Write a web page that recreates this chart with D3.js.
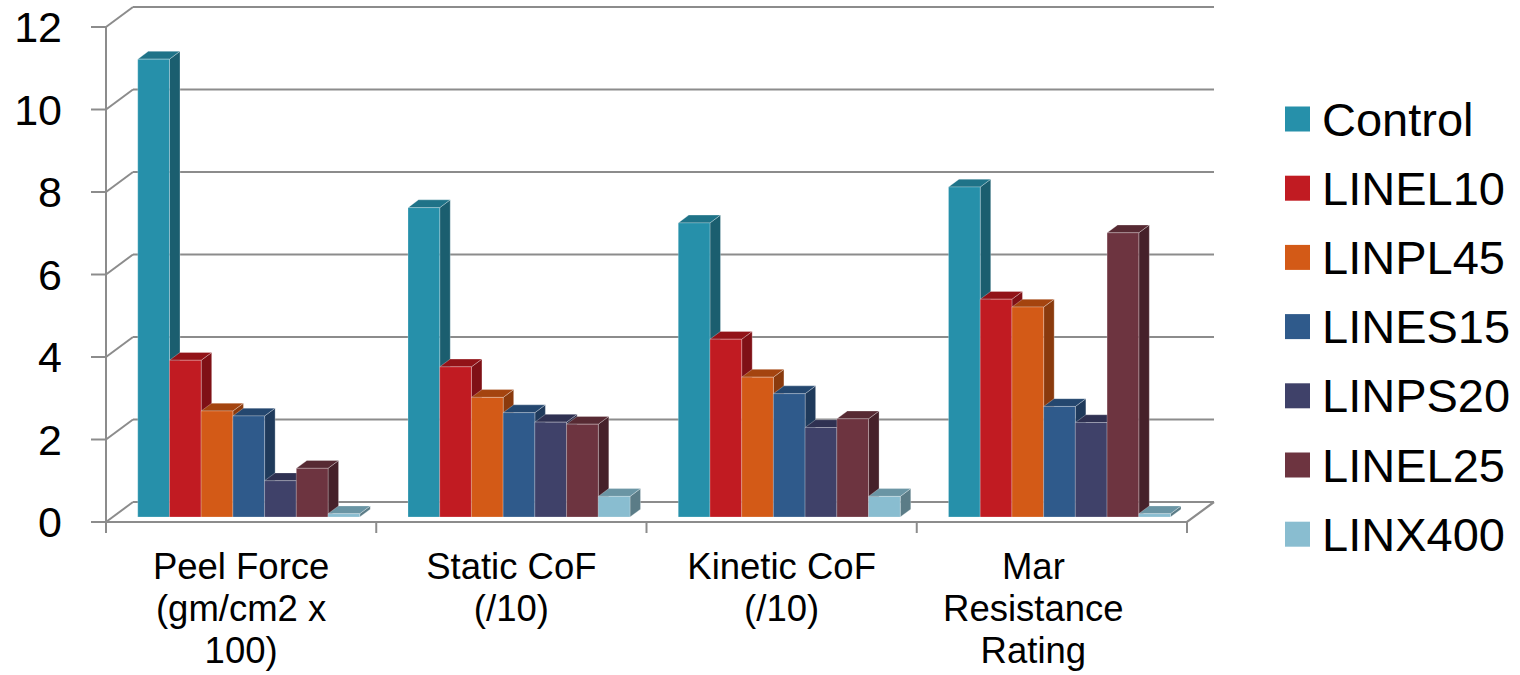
<!DOCTYPE html>
<html>
<head>
<meta charset="utf-8">
<script src="https://cdn.jsdelivr.net/npm/d3@7"></script>
<style>
  html, body { margin: 0; padding: 0; background: #fff; }
  svg { display: block; font-family: "Liberation Sans", Arial, sans-serif; }
</style>
</head>
<body>
<svg id="chart" width="1520" height="675"></svg>
<script>
// Categories (each label split into its display lines)
const categories = ["Peel Force", "Static CoF", "Kinetic CoF", "Mar Resistance"];
const categoryLines = [
  ["Peel Force", "(gm/cm2 x", "100)"],
  ["Static CoF", "(/10)"],
  ["Kinetic CoF", "(/10)"],
  ["Mar", "Resistance", "Rating"]
];

const seriesNames = ["Control", "LINEL10", "LINPL45", "LINES15", "LINPS20", "LINEL25", "LINX400"];

// Values per series, in category order
const control = [11.1, 7.5, 7.13, 8.0];
const linel10 = [3.8, 3.64, 4.31, 5.28];
const linpl45 = [2.57, 2.9, 3.39, 5.09];
const lines15 = [2.45, 2.53, 2.99, 2.68];
const linps20 = [0.88, 2.3, 2.17, 2.29];
const linel25 = [1.18, 2.25, 2.38, 6.89];
const linx400 = [0.08, 0.5, 0.5, 0.08];

const yTicks = [0, 2, 4, 6, 8, 10, 12];

// Face colours: front, side, top
const frontColors = ["#2690aa", "#c11b22", "#d35a17", "#2f5a8b", "#3f4169", "#6d3440", "#89bdd0"];
const sideColors  = ["#1b5e6f", "#7f1016", "#8a3a0d", "#1f3a5b", "#2a2c48", "#46212a", "#5b7c87"];
const topColors   = ["#1f7388", "#921318", "#a4440f", "#24476f", "#2f3152", "#572a33", "#6a95a4"];

const values = [control, linel10, linpl45, lines15, linps20, linel25, linx400];

const svg = d3.select("#chart");

// Front-plane geometry and depth offset of the 3D box
const left = 106, right = 1187;
const DX = 27, DY = 20;
const proj = (x, y, z) => [x + z * DX, y - z * DY];

const y = d3.scaleLinear().domain([0, 12]).range([522, 27]);
const x0 = d3.scaleBand().domain(categories).range([left, right]).padding(0);
const x1 = d3.scaleBand().domain(seriesNames).range([25, 25 + 222]).padding(0);

const gridColor = "#8c8c8c";
const line = d3.line();

// Back wall gridlines and side wall diagonals
const walls = svg.append("g");
yTicks.forEach(t => {
  walls.append("path")
    .attr("d", line([proj(left, y(t), 1), proj(right, y(t), 1)]))
    .attr("stroke", gridColor).attr("stroke-width", 2.2).attr("fill", "none");
  walls.append("path")
    .attr("d", line([[left, y(t)], proj(left, y(t), 1)]))
    .attr("stroke", gridColor).attr("stroke-width", 2).attr("fill", "none");
});

// Floor front and right edges
walls.append("path")
  .attr("d", line([[left, y(0)], [right, y(0)], proj(right, y(0), 1)]))
  .attr("stroke", gridColor).attr("stroke-width", 2.2).attr("fill", "none");

// Vertical value axis with tick marks
walls.append("path")
  .attr("d", line([[left, y(12)], [left, y(0)]]))
  .attr("stroke", gridColor).attr("stroke-width", 2).attr("fill", "none");
yTicks.forEach(t => {
  walls.append("path")
    .attr("d", line([[left - 15, y(t)], [left, y(t)]]))
    .attr("stroke", gridColor).attr("stroke-width", 2).attr("fill", "none");
});

// Category tick marks under the floor
const catEdges = categories.map(c => x0(c)).concat([right]);
catEdges.forEach(cx => {
  walls.append("path")
    .attr("d", line([[cx, y(0)], [cx, y(0) + 11]]))
    .attr("stroke", gridColor).attr("stroke-width", 2).attr("fill", "none");
});

// 3D columns: front face at depth z0, back at z1
const z0 = 0.25, z1 = 0.64;
const bars = svg.append("g");
categories.forEach((c, ci) => {
  seriesNames.forEach((s, si) => {
    const v = values[si][ci];
    const xa = x0(c) + x1(s);
    const xb = xa + x1.bandwidth();
    const yt = y(v), yb = y(0);
    const fTL = proj(xa, yt, z0), fTR = proj(xb, yt, z0);
    const fBL = proj(xa, yb, z0), fBR = proj(xb, yb, z0);
    const bTL = proj(xa, yt, z1), bTR = proj(xb, yt, z1), bBR = proj(xb, yb, z1);
    const g = bars.append("g");
    // right side face
    g.append("path")
      .attr("d", line([fTR, bTR, bBR, fBR]) + "Z")
      .attr("fill", sideColors[si])
      .attr("stroke", "rgba(255,255,255,0.35)").attr("stroke-width", 0.8);
    // top face
    g.append("path")
      .attr("d", line([fTL, fTR, bTR, bTL]) + "Z")
      .attr("fill", topColors[si])
      .attr("stroke", "rgba(255,255,255,0.35)").attr("stroke-width", 0.8);
    // front face
    g.append("path")
      .attr("d", line([fTL, fTR, fBR, fBL]) + "Z")
      .attr("fill", frontColors[si])
      .attr("stroke", "rgba(255,255,255,0.3)").attr("stroke-width", 0.8);
  });
});

// Value axis labels
const yLabels = svg.append("g");
yTicks.forEach(t => {
  yLabels.append("text")
    .attr("x", 62).attr("y", y(t))
    .attr("text-anchor", "end")
    .attr("dominant-baseline", "central")
    .attr("font-size", 43).attr("fill", "#000")
    .text(t);
});

// Category labels, centred in their band but kept clear of the legend side
const labelMaxX = 1150;
const xLabels = svg.append("g");
categories.forEach((c, ci) => {
  const bandL = x0(c), bandR = Math.min(x0(c) + x0.bandwidth(), labelMaxX);
  const cx = (bandL + bandR) / 2;
  const t = xLabels.append("text")
    .attr("text-anchor", "middle")
    .attr("font-size", 36.5).attr("fill", "#000");
  categoryLines[ci].forEach((ln, li) => {
    t.append("tspan").attr("x", cx).attr("y", 579 + li * 42).text(ln);
  });
});

// Legend
const legend = svg.append("g");
seriesNames.forEach((s, si) => {
  const cy = 119 + si * 69.2;
  legend.append("rect")
    .attr("x", 1285).attr("y", cy - 12.5)
    .attr("width", 25).attr("height", 25)
    .attr("fill", frontColors[si]);
  legend.append("text")
    .attr("x", 1322).attr("y", cy)
    .attr("dominant-baseline", "central")
    .attr("font-size", 47).attr("fill", "#000")
    .text(s);
});
</script>
</body>
</html>
